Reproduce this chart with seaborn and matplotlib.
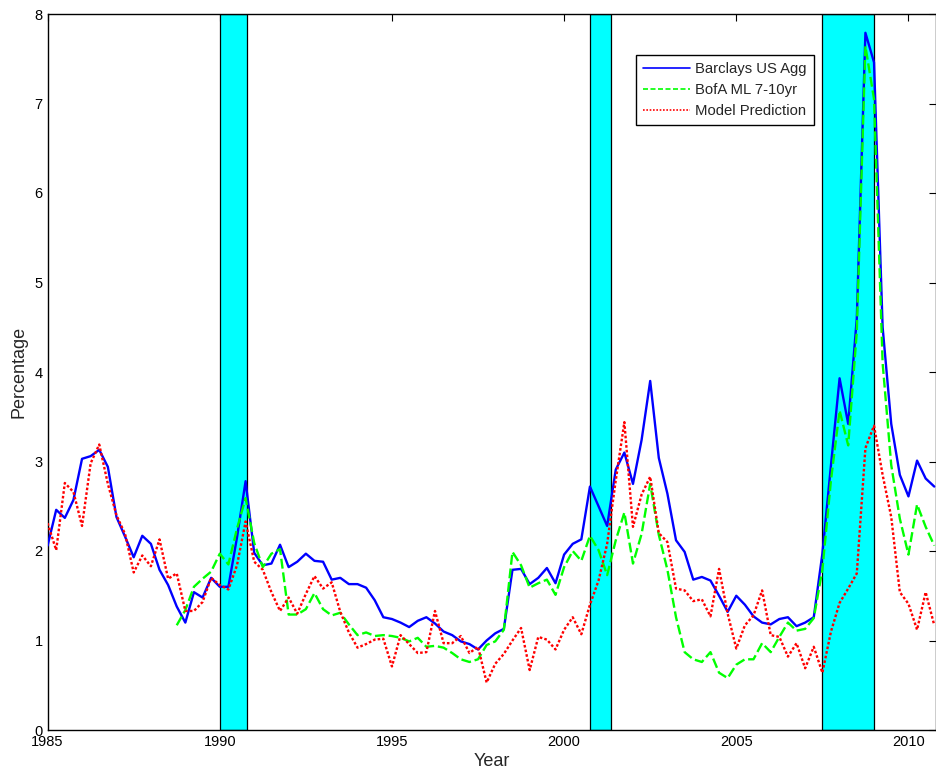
import numpy as np
import pandas as pd
import matplotlib
matplotlib.use("Agg")
import matplotlib.pyplot as plt
import seaborn as sns

# Quarterly observations, 1985Q1 .. 2010Q4
quarters = np.arange(1985.0, 2010.76, 0.25)

barclays_us_agg = [
    2.06, 2.46, 2.37, 2.57, 3.03, 3.06, 3.13, 2.94,   # 1985-1986
    2.38, 2.16, 1.93, 2.17, 2.08, 1.79, 1.62, 1.38,   # 1987-1988
    1.20, 1.54, 1.48, 1.70, 1.60, 1.60, 2.15, 2.78,   # 1989-1990
    1.98, 1.84, 1.86, 2.07, 1.82, 1.88, 1.97, 1.89,   # 1991-1992
    1.88, 1.68, 1.70, 1.63, 1.63, 1.59, 1.45, 1.26,   # 1993-1994
    1.24, 1.20, 1.15, 1.22, 1.26, 1.19, 1.10, 1.06,   # 1995-1996
    0.99, 0.96, 0.90, 1.00, 1.08, 1.13, 1.79, 1.80,   # 1997-1998
    1.63, 1.70, 1.81, 1.64, 1.96, 2.08, 2.13, 2.72,   # 1999-2000
    2.50, 2.28, 2.91, 3.10, 2.75, 3.24, 3.90, 3.04,   # 2001-2002
    2.64, 2.12, 1.99, 1.68, 1.71, 1.67, 1.50, 1.32,   # 2003-2004
    1.50, 1.40, 1.27, 1.20, 1.18, 1.24, 1.26, 1.16,   # 2005-2006
    1.20, 1.26, 1.97, 2.96, 3.93, 3.42, 4.60, 7.79,   # 2007-2008
    7.46, 4.50, 3.42, 2.85, 2.61, 3.01, 2.81, 2.72,   # 2009-2010
]

# BofA Merrill Lynch 7-10yr series starts in 1988Q4
bofa_start = 1988.75
bofa_ml_7_10yr = [
    1.17,                                             # 1988Q4
    1.34, 1.60, 1.69, 1.77, 1.97, 1.85, 2.25, 2.59,   # 1989-1990
    2.09, 1.82, 1.97, 2.02, 1.29, 1.29, 1.35, 1.53,   # 1991-1992
    1.35, 1.28, 1.31, 1.18, 1.06, 1.09, 1.05, 1.06,   # 1993-1994
    1.05, 1.03, 0.99, 1.03, 0.93, 0.94, 0.92, 0.86,   # 1995-1996
    0.79, 0.76, 0.79, 0.95, 0.99, 1.12, 1.99, 1.84,   # 1997-1998
    1.59, 1.64, 1.68, 1.51, 1.82, 2.00, 1.89, 2.17,   # 1999-2000
    2.01, 1.73, 2.12, 2.43, 1.86, 2.19, 2.75, 2.18,   # 2001-2002
    1.79, 1.26, 0.87, 0.79, 0.76, 0.87, 0.64, 0.58,   # 2003-2004
    0.73, 0.79, 0.79, 0.97, 0.87, 1.04, 1.20, 1.11,   # 2005-2006
    1.13, 1.25, 1.79, 2.79, 3.57, 3.18, 4.45, 7.64,   # 2007-2008
    7.05, 4.10, 2.96, 2.36, 1.96, 2.52, 2.27, 2.06,   # 2009-2010
]

model_prediction = [
    2.31, 2.01, 2.76, 2.66, 2.28, 2.98, 3.19, 2.75,   # 1985-1986
    2.40, 2.19, 1.76, 1.95, 1.83, 2.13, 1.69, 1.75,   # 1987-1988
    1.33, 1.33, 1.43, 1.70, 1.62, 1.57, 1.84, 2.33,   # 1989-1990
    1.88, 1.79, 1.54, 1.33, 1.48, 1.30, 1.52, 1.72,   # 1991-1992
    1.58, 1.65, 1.32, 1.09, 0.92, 0.96, 1.01, 1.02,   # 1993-1994
    0.71, 1.06, 0.96, 0.86, 0.87, 1.33, 0.97, 0.97,   # 1995-1996
    1.05, 0.86, 0.93, 0.53, 0.74, 0.85, 1.00, 1.14,   # 1997-1998
    0.67, 1.04, 1.01, 0.90, 1.12, 1.26, 1.07, 1.40,   # 1999-2000
    1.67, 2.08, 2.79, 3.44, 2.27, 2.63, 2.83, 2.20,   # 2001-2002
    2.10, 1.58, 1.56, 1.44, 1.46, 1.27, 1.80, 1.30,   # 2003-2004
    0.91, 1.17, 1.28, 1.56, 1.06, 1.04, 0.82, 0.97,   # 2005-2006
    0.69, 0.93, 0.64, 1.10, 1.42, 1.58, 1.75, 3.15,   # 2007-2008
    3.40, 2.85, 2.38, 1.54, 1.41, 1.12, 1.54, 1.17,   # 2009-2010
]

# NBER recession periods (start, end) in fractional years
recession_start = [1990.0, 2000.75, 2007.5]
recession_end = [1990.78, 2001.35, 2009.0]

series_names = ["Barclays US Agg", "BofA ML 7-10yr", "Model Prediction"]
series_colors = ["#0000ff", "#00ff00", "#ff0000"]

bofa_quarters = quarters[quarters >= bofa_start - 1e-9]
df = pd.concat([
    pd.DataFrame({"Year": quarters, "Percentage": barclays_us_agg, "Series": series_names[0]}),
    pd.DataFrame({"Year": bofa_quarters, "Percentage": bofa_ml_7_10yr, "Series": series_names[1]}),
    pd.DataFrame({"Year": quarters, "Percentage": model_prediction, "Series": series_names[2]}),
], ignore_index=True)

sns.set_theme(style="white")
plt.rcParams["font.family"] = ["Liberation Sans", "DejaVu Sans"]

fig = plt.figure(figsize=(9.36, 7.74), dpi=100)
ax = fig.add_axes([47.6 / 936, 44 / 774, 1 - 47.6 / 936, (730 - 14) / 774])

for s, e in zip(recession_start, recession_end):
    ax.axvspan(s, e, facecolor="#00ffff", edgecolor="black", linewidth=0.9, zorder=1)

sns.lineplot(
    data=df, x="Year", y="Percentage", hue="Series", style="Series",
    hue_order=series_names, style_order=series_names,
    palette=dict(zip(series_names, series_colors)),
    dashes={series_names[0]: "", series_names[1]: (4.2, 1.6), series_names[2]: (1.1, 0.9)},
    linewidth=1.7, ax=ax, zorder=3, legend=False, estimator=None, sort=False,
)

ax.set_xlim(1985, 2010.8)
ax.set_ylim(0, 8)
ax.set_xticks([1985, 1990, 1995, 2000, 2005, 2010])
ax.set_yticks(range(0, 9))
ax.tick_params(direction="in", length=5, width=0.8, top=True, right=True,
               labelsize=10.5, colors="black", pad=3.5)
for sp in ax.spines.values():
    sp.set_visible(True)
    sp.set_color("black")
    sp.set_linewidth(1.0)
ax.set_xlabel("Year", fontsize=13, labelpad=3)
ax.set_ylabel("Percentage", fontsize=13, labelpad=5)

handles = [
    plt.Line2D([], [], color=series_colors[0], lw=1.2),
    plt.Line2D([], [], color=series_colors[1], lw=1.2, dashes=(3, 1.5)),
    plt.Line2D([], [], color=series_colors[2], lw=1.2, dashes=(1, 1)),
]
leg = ax.legend(
    handles, series_names, loc="upper left",
    bbox_to_anchor=(636 / 936, 1 - 55 / 774), bbox_transform=fig.transFigure,
    borderaxespad=0, fancybox=False, frameon=True, fontsize=10.7,
    handlelength=3.1, handletextpad=0.35, labelspacing=0.45, borderpad=0.5,
)
leg.get_frame().set_edgecolor("black")
leg.get_frame().set_linewidth(1.0)
leg.get_frame().set_alpha(1)
leg.set_zorder(5)

fig.savefig("out.png", dpi=100)
